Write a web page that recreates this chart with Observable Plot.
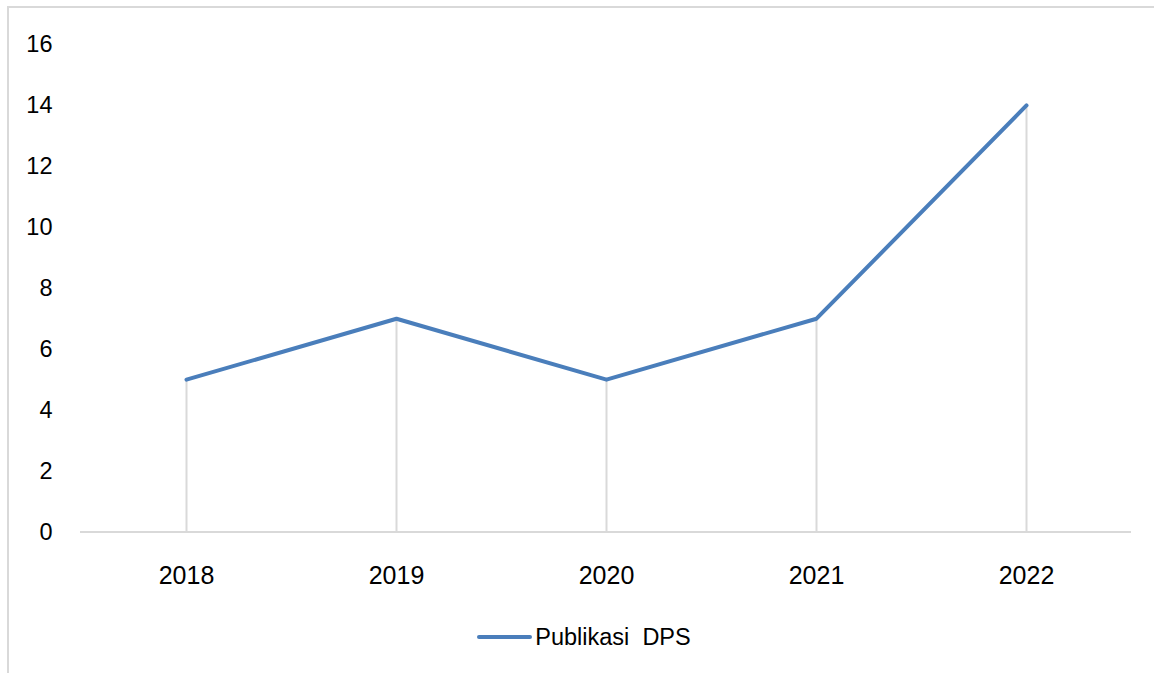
<!DOCTYPE html>
<html>
<head>
<meta charset="utf-8">
<script src="https://cdn.jsdelivr.net/npm/d3@7"></script>
<script src="https://cdn.jsdelivr.net/npm/@observablehq/plot@0.6"></script>
<style>
  html, body { margin: 0; padding: 0; background: #fff; }
  #wrap { position: relative; width: 1154px; height: 673px; overflow: hidden; font-family: "Liberation Sans", Arial, sans-serif; }
  #frame { position: absolute; left: 7px; top: 6px; width: 1200px; height: 700px; border-left: 2px solid #d9d9d9; border-top: 2px solid #d9d9d9; box-sizing: border-box; }
  #chart { position: absolute; left: 0; top: 0; }
  #legend { position: absolute; left: 7px; top: 624px; width: 1154px; height: 26px; display: flex; justify-content: center; align-items: center; font-size: 23.5px; color: #000; white-space: pre; }
  #legend .sw { display: inline-block; width: 55px; height: 4px; border-radius: 2px; background: #4a7ebb; margin-right: 3px; }
</style>
</head>
<body>
<div id="wrap">
  <div id="frame"></div>
  <div id="chart"></div>
  <div id="legend"><span class="sw"></span><span id="legtext"></span></div>
</div>
<script>
const years = ["2018", "2019", "2020", "2021", "2022"];
const values = [5, 7, 5, 7, 14];
const yTicks = [0, 2, 4, 6, 8, 10, 12, 14, 16];
const seriesName = "Publikasi  DPS";
const lineColor = "#4a7ebb";

const data = years.map((y, i) => ({year: y, value: values[i]}));

const chart = Plot.plot({
  width: 1154,
  height: 600,
  marginLeft: 80,
  marginRight: 23,
  marginTop: 44,
  marginBottom: 68.5,
  style: {fontFamily: "'Liberation Sans', Arial, sans-serif", fontSize: "23px", color: "#000", background: "transparent"},
  x: {type: "point", domain: years, padding: 0.5, label: null},
  y: {domain: [0, 16], label: null},
  marks: [
    Plot.ruleX(data, {x: "year", y1: 0, y2: "value", stroke: "#d9d9d9", strokeWidth: 2}),
    Plot.ruleY([0], {stroke: "#d9d9d9", strokeWidth: 2}),
    Plot.axisY({ticks: yTicks, tickSize: 0, tickPadding: 28, label: null, fontSize: 23.5}),
    Plot.axisX({tickSize: 0, tickPadding: 34, label: null, fontSize: 25}),
    Plot.line(data, {x: "year", y: "value", stroke: lineColor, strokeWidth: 4, strokeLinecap: "round", strokeLinejoin: "round"})
  ]
});
document.getElementById("chart").appendChild(chart);
document.getElementById("legtext").textContent = seriesName;
</script>
</body>
</html>
